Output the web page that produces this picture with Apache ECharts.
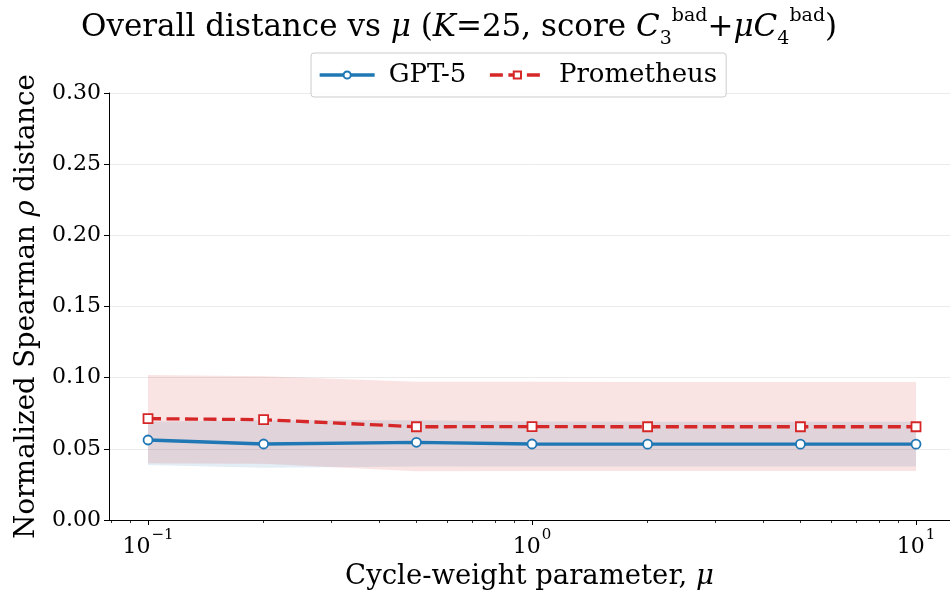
<!DOCTYPE html>
<html>
<head>
<meta charset="utf-8">
<script src="https://cdn.jsdelivr.net/npm/echarts@6/dist/echarts.min.js"></script>
<style>
  html, body { margin: 0; padding: 0; background: #fff; }
  #chart { width: 950px; height: 592px; }
</style>
</head>
<body>
<div id="chart"></div>
<script>
// cycle-weight parameter mu (log x axis)
var muValues = [0.1, 0.2, 0.5, 1, 2, 5, 10];

// GPT-5
var gptMean  = [0.0562, 0.0534, 0.0546, 0.0534, 0.0533, 0.0533, 0.0533];
var gptLow   = [0.0387, 0.0367, 0.0376, 0.0376, 0.0376, 0.0376, 0.0376];
var gptHigh  = [0.0690, 0.0700, 0.0700, 0.0692, 0.0690, 0.0690, 0.0690];

// Prometheus
var promMean = [0.0712, 0.0705, 0.0655, 0.0656, 0.0655, 0.0655, 0.0655];
var promLow  = [0.0398, 0.0396, 0.0342, 0.0344, 0.0344, 0.0344, 0.0344];
var promHigh = [0.1019, 0.1010, 0.0972, 0.0972, 0.0970, 0.0970, 0.0970];

var xMajorTicks = [0.1, 1, 10];
var xMinorTicks = [0.08, 0.09, 0.2, 0.3, 0.4, 0.5, 0.6, 0.7, 0.8, 0.9, 2, 3, 4, 5, 6, 7, 8, 9];

var FONT = 'DejaVu Serif';

function lg(v) { return Math.log10(v); }

function linePoints(ys) {
  return muValues.map(function (m, i) { return [lg(m), ys[i]]; });
}
function bandPoints(lo, hi) {
  return muValues.map(function (m, i) { return [lg(m), lo[i], hi[i]]; });
}

// draws the whole shaded band once, from the first data item
function bandRenderer(fill) {
  return function (params, api) {
    if (params.dataIndex !== 0) return;
    var top = [], bottom = [];
    for (var i = 0; i < muValues.length; i++) {
      top.push(api.coord([lg(muValues[i]), api.value(2, i)]));
      bottom.push(api.coord([lg(muValues[i]), api.value(1, i)]));
    }
    return {
      type: 'polygon',
      shape: { points: top.concat(bottom.reverse()) },
      style: { fill: fill, stroke: null },
      silent: true
    };
  };
}

var supRich = {
  base: { fontFamily: FONT, fontSize: 22, color: '#000', lineHeight: 30, verticalAlign: 'bottom' },
  sup: { fontFamily: FONT, fontSize: 15, color: '#000', lineHeight: 30, verticalAlign: 'top', padding: [0, 0, 0, 1] }
};

var chart = echarts.init(document.getElementById('chart'), null, { renderer: 'canvas' });

var TS = 31;
var option = {
  animation: false,
  backgroundColor: '#ffffff',
  title: {
    text: 'Overall distance vs {i|μ} ({i|K}{b|=25, score }{i|C}{sub|3}{sup|bad}{b|+}{i|μC}{sub|4}{sup|bad}{b|)}',
    left: 76,
    top: 2,
    textStyle: {
      fontFamily: FONT,
      fontSize: TS,
      fontWeight: 'normal',
      color: '#000',
      lineHeight: 42,
      rich: {
        i: { fontFamily: FONT, fontSize: TS, fontStyle: 'italic', color: '#000', lineHeight: 42 },
        b: { fontFamily: FONT, fontSize: TS, color: '#000', lineHeight: 42 },
        sub: { fontFamily: FONT, fontSize: 19, color: '#000', lineHeight: 42, verticalAlign: 'bottom' },
        sup: { fontFamily: FONT, fontSize: 19, color: '#000', lineHeight: 42, verticalAlign: 'top' }
      }
    }
  },
  legend: {
    data: ['GPT-5', 'Prometheus'],
    left: 311,
    top: 53,
    orient: 'horizontal',
    itemWidth: 55,
    itemHeight: 9,
    itemGap: 22,
    padding: [9, 9, 9, 7],
    borderColor: '#cccccc',
    borderWidth: 1,
    borderRadius: 3,
    backgroundColor: 'rgba(255,255,255,0.8)',
    lineStyle: { width: 3.3 },
    textStyle: { fontFamily: FONT, fontSize: 26, color: '#000', padding: [0, 0, 0, 9] }
  },
  grid: { left: 109, right: 0, top: 93, bottom: 72, containLabel: false, outerBoundsMode: 'none' },
  xAxis: [
    {
      type: 'value',
      min: -1.1016,
      max: 1.0885,
      name: 'Cycle-weight parameter, {i|μ}',
      nameLocation: 'middle',
      nameGap: 42,
      nameTextStyle: {
        fontFamily: FONT, fontSize: 27.5, color: '#000',
        rich: { i: { fontFamily: FONT, fontSize: 27.5, fontStyle: 'italic', color: '#000' } }
      },
      axisLine: { show: true, onZero: false, lineStyle: { color: '#000', width: 1 } },
      axisTick: { show: true, length: 5, lineStyle: { color: '#000', width: 1 }, customValues: xMajorTicks.map(lg) },
      axisLabel: {
        show: true,
        margin: 8,
        customValues: xMajorTicks.map(lg),
        formatter: function (v) {
          var e = Math.round(v);
          return '{base|10}{sup|' + (e < 0 ? '−' + (-e) : e) + '}';
        },
        rich: supRich
      },
      splitLine: { show: false }
    },
    {
      type: 'value',
      min: -1.1016,
      max: 1.0885,
      position: 'bottom',
      axisLine: { show: false, onZero: false },
      axisTick: { show: true, length: 3, lineStyle: { color: '#000', width: 0.8 }, customValues: xMinorTicks.map(lg) },
      axisLabel: { show: false },
      splitLine: { show: false }
    }
  ],
  yAxis: {
    type: 'value',
    min: 0,
    max: 0.30,
    interval: 0.05,
    name: 'Normalized Spearman {i|ρ} distance',
    nameLocation: 'middle',
    nameRotate: 90,
    nameGap: 65,
    nameTextStyle: {
      fontFamily: FONT, fontSize: 27.5, color: '#000',
      rich: { i: { fontFamily: FONT, fontSize: 27.5, fontStyle: 'italic', color: '#000' } }
    },
    axisLine: { show: true, onZero: false, lineStyle: { color: '#000', width: 1 } },
    axisTick: { show: true, length: 5, lineStyle: { color: '#000', width: 1 } },
    axisLabel: {
      fontFamily: FONT, fontSize: 22, color: '#000', margin: 8,
      formatter: function (v) { return v.toFixed(2); }
    },
    splitLine: { show: true, lineStyle: { color: '#ebebeb', width: 1 } }
  },
  series: [
    {
      name: 'GPT-5 band',
      type: 'custom',
      xAxisIndex: 0,
      renderItem: bandRenderer('rgba(31,119,180,0.13)'),
      data: bandPoints(gptLow, gptHigh),
      encode: { x: 0, y: [1, 2] },
      z: 1,
      silent: true
    },
    {
      name: 'Prometheus band',
      type: 'custom',
      xAxisIndex: 0,
      renderItem: bandRenderer('rgba(214,39,40,0.13)'),
      data: bandPoints(promLow, promHigh),
      encode: { x: 0, y: [1, 2] },
      z: 1,
      silent: true
    },
    {
      name: 'GPT-5',
      type: 'line',
      xAxisIndex: 0,
      data: linePoints(gptMean),
      symbol: 'circle',
      symbolSize: 9,
      showAllSymbol: true,
      lineStyle: { color: '#1f77b4', width: 3.3 },
      itemStyle: { color: '#ffffff', borderColor: '#1f77b4', borderWidth: 1.8 },
      z: 3
    },
    {
      name: 'Prometheus',
      type: 'line',
      xAxisIndex: 0,
      data: linePoints(promMean),
      symbol: 'rect',
      symbolSize: 9,
      showAllSymbol: true,
      lineStyle: { color: '#d62728', width: 3.3, type: [13, 5.5] },
      itemStyle: { color: '#ffffff', borderColor: '#d62728', borderWidth: 1.8 },
      z: 3
    }
  ]
};

chart.setOption(option);
</script>
</body>
</html>
